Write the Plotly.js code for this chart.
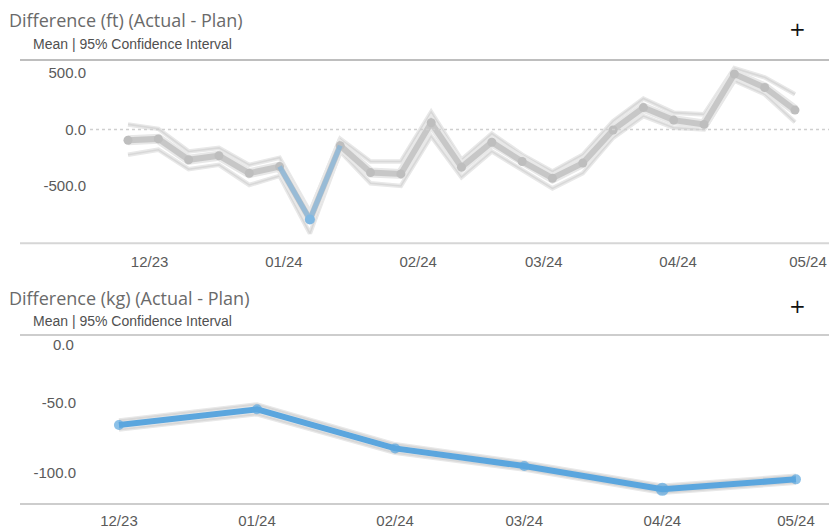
<!DOCTYPE html>
<html>
<head>
<meta charset="utf-8">
<script src="https://cdn.plot.ly/plotly-3.0.1.min.js"></script>
<style>
  html, body { margin: 0; padding: 0; background: #ffffff; }
  #chart { width: 829px; height: 528px; }
</style>
</head>
<body>
<div id="chart"></div>
<script>
// ---- Weekly difference in feet (mean with 95% confidence interval) ----
const weeks = [
  '2023-11-26', '2023-12-03', '2023-12-10', '2023-12-17', '2023-12-24', '2023-12-31',
  '2024-01-07', '2024-01-14', '2024-01-21', '2024-01-28', '2024-02-04', '2024-02-11',
  '2024-02-18', '2024-02-25', '2024-03-03', '2024-03-10', '2024-03-17', '2024-03-24',
  '2024-03-31', '2024-04-07', '2024-04-14', '2024-04-21', '2024-04-28'
];
const ftMean  = [-95, -83, -268, -232, -387, -328, -797, -143, -381, -393, 60, -333,
                 -113, -283, -431, -297, -4, 194, 83, 45, 491, 372, 172];
const ftUpper = [45, 6, -194, -163, -313, -250, -729, -83, -283, -283, 154, -268,
                 -36, -223, -372, -223, 74, 274, 149, 134, 542, 462, 312];
const ftLower = [-223, -179, -351, -313, -491, -411, -920, -194, -476, -500, -60, -422,
                 -194, -357, -521, -387, -74, 119, 15, 0, 431, 312, 65];
const ftHighlight = [5, 6, 7];   // indices of the highlighted stretch

// ---- Monthly difference in kilograms ----
const months  = ['2023-12-01', '2024-01-01', '2024-02-01', '2024-03-01', '2024-04-01', '2024-05-01'];
const kgMean  = [-65.7, -54.5, -82.4, -95.0, -111.6, -104.5];
const kgUpper = [-62.5, -51.0, -79.5, -92.5, -109.0, -102.0];
const kgLower = [-69.0, -58.0, -85.5, -97.5, -114.0, -107.0];

// ---- Axis labels ----
const monthTicks  = ['2023-12-01', '2024-01-01', '2024-02-01', '2024-03-01', '2024-04-01', '2024-05-01'];
const monthLabels = ['12/23', '01/24', '02/24', '03/24', '04/24', '05/24'];
const ftTickVals  = [500, 0, -500];
const ftTickText  = ['500.0', '0.0', '-500.0'];
const kgTickVals  = [-50, -100];
const kgTickText  = ['-50.0', '-100.0'];
const kgTopVal    = 0;        // top bound label, nudged below the frame rule
const kgTopText   = '0.0';

const W = 829, H = 528;
const px = v => v / W;            // horizontal pixel -> paper
const py = v => (H - v) / H;      // vertical pixel -> paper

const GREY_MEAN = '#c7c7c7';
const GREY_HALO = '#e8e8e8';
const GREY_CI   = '#d8d8d8';
const BLUE      = '#5ba6de';

const tickFont = { family: 'Liberation Sans, Arial, sans-serif', size: 15, color: '#5a5a5a' };

function line(x, y, color, width, xa, ya, extra) {
  return Object.assign({
    x: x, y: y, type: 'scatter', mode: 'lines', xaxis: xa, yaxis: ya,
    line: { color: color, width: width }, hoverinfo: 'skip', showlegend: false
  }, extra || {});
}

const traces = [
  // top chart: confidence bounds with soft halos
  line(weeks, ftUpper, GREY_HALO, 4.5, 'x', 'y'),
  line(weeks, ftLower, GREY_HALO, 4.5, 'x', 'y'),
  line(weeks, ftUpper, GREY_CI, 1.6, 'x', 'y'),
  line(weeks, ftLower, GREY_CI, 1.6, 'x', 'y'),
  // mean line
  line(weeks, ftMean, GREY_HALO, 10, 'x', 'y'),
  line(weeks, ftMean, GREY_MEAN, 6, 'x', 'y', {
    mode: 'lines+markers',
    marker: { color: '#bebebe', size: 9, line: { width: 0 } }
  }),
  // highlighted stretch
  line(ftHighlight.map(i => weeks[i]), ftHighlight.map(i => ftMean[i]),
       'rgba(120,178,224,0.6)', 5, 'x', 'y'),
  line([weeks[ftHighlight[1]]], [ftMean[ftHighlight[1]]], BLUE, 0, 'x', 'y', {
    mode: 'markers', marker: { color: '#80b8e2', size: 10, line: { width: 0 } }
  }),

  // bottom chart: confidence bounds
  line(months, kgUpper, GREY_HALO, 4.5, 'x2', 'y2'),
  line(months, kgLower, GREY_HALO, 4.5, 'x2', 'y2'),
  line(months, kgUpper, GREY_CI, 2, 'x2', 'y2'),
  line(months, kgLower, GREY_CI, 2, 'x2', 'y2'),
  // mean line
  line(months, kgMean, BLUE, 6, 'x2', 'y2', {
    mode: 'lines+markers',
    marker: { color: BLUE, size: months.map((m, i) => (i === 4 ? 13 : 10)), line: { width: 0 } }
  })
];

const xCommon = {
  type: 'date', showgrid: false, zeroline: false, showline: false, ticks: '',
  tickvals: monthTicks, ticktext: monthLabels, tickfont: tickFont, fixedrange: true
};
const yCommon = {
  showgrid: false, zeroline: false, showline: false, ticks: '',
  tickfont: tickFont, fixedrange: true
};

const layout = {
  width: W, height: H,
  margin: { l: 0, r: 0, t: 0, b: 0 },
  paper_bgcolor: '#ffffff', plot_bgcolor: '#ffffff',
  showlegend: false,
  xaxis: Object.assign({}, xCommon, {
    domain: [px(90), 1], anchor: 'y',
    range: ['2023-11-17 05:30', '2024-05-05 20:24'],
    ticklabelstandoff: 8
  }),
  yaxis: Object.assign({}, yCommon, {
    domain: [py(243.3), py(60)], anchor: 'x',
    range: [-1007, 615],
    tickvals: ftTickVals, ticktext: ftTickText,
    ticklabelstandoff: 3
  }),
  xaxis2: Object.assign({}, xCommon, {
    domain: [px(90), 1], anchor: 'y2',
    range: ['2023-11-24 12:00', '2024-05-08 10:00'],
    ticklabelstandoff: 6
  }),
  yaxis2: Object.assign({}, yCommon, {
    domain: [py(504), py(333)], anchor: 'x2',
    range: [-122.1, 0],
    tickvals: kgTickVals, ticktext: kgTickText,
    ticklabelstandoff: 13
  }),
  shapes: [
    // dotted zero reference in the top chart
    { type: 'line', xref: 'x domain', yref: 'y', x0: 0, x1: 1, y0: 0, y1: 0,
      line: { color: '#cfcfcf', width: 1.5, dash: 'dot' } },
    // frame rules
    { type: 'line', xref: 'paper', yref: 'paper', x0: px(20), x1: 1, y0: py(60), y1: py(60),
      line: { color: '#a9a9a9', width: 1.5 } },
    { type: 'line', xref: 'paper', yref: 'paper', x0: px(20), x1: 1, y0: py(243.3), y1: py(243.3),
      line: { color: '#d6d6d6', width: 2 } },
    { type: 'line', xref: 'paper', yref: 'paper', x0: px(20), x1: 1, y0: py(335), y1: py(335),
      line: { color: '#cdcdcd', width: 2 } },
    { type: 'line', xref: 'paper', yref: 'paper', x0: px(20), x1: 1, y0: py(504), y1: py(504),
      line: { color: '#cdcdcd', width: 2 } }
  ],
  annotations: [
    { text: 'Difference (ft) (Actual - Plan)', xref: 'paper', yref: 'paper',
      x: px(7), y: py(20), xanchor: 'left', yanchor: 'middle', showarrow: false,
      font: { family: 'Open Sans, sans-serif', size: 18, color: '#6a6a6a' } },
    { text: 'Mean | 95% Confidence Interval', xref: 'paper', yref: 'paper',
      x: px(31), y: py(44), xanchor: 'left', yanchor: 'middle', showarrow: false,
      font: { family: 'Liberation Sans, Arial, sans-serif', size: 14, color: '#505050' } },
    { text: '+', xref: 'paper', yref: 'paper',
      x: px(797), y: py(29), xanchor: 'center', yanchor: 'middle', showarrow: false,
      font: { family: 'DejaVu Sans, sans-serif', size: 20, color: '#111111' } },
    { text: 'Difference (kg) (Actual - Plan)', xref: 'paper', yref: 'paper',
      x: px(7), y: py(298), xanchor: 'left', yanchor: 'middle', showarrow: false,
      font: { family: 'Open Sans, sans-serif', size: 18, color: '#6a6a6a' } },
    { text: 'Mean | 95% Confidence Interval', xref: 'paper', yref: 'paper',
      x: px(31), y: py(321), xanchor: 'left', yanchor: 'middle', showarrow: false,
      font: { family: 'Liberation Sans, Arial, sans-serif', size: 14, color: '#505050' } },
    { text: '+', xref: 'paper', yref: 'paper',
      x: px(797), y: py(306), xanchor: 'center', yanchor: 'middle', showarrow: false,
      font: { family: 'DejaVu Sans, sans-serif', size: 20, color: '#111111' } },
    // top value label of the kg axis
    { text: kgTopText, xref: 'paper', yref: 'y2',
      x: px(76), y: kgTopVal, yshift: -12, xanchor: 'right', yanchor: 'middle', showarrow: false,
      font: tickFont }
  ]
};

Plotly.newPlot('chart', traces, layout, { displayModeBar: false, staticPlot: true });
</script>
</body>
</html>
